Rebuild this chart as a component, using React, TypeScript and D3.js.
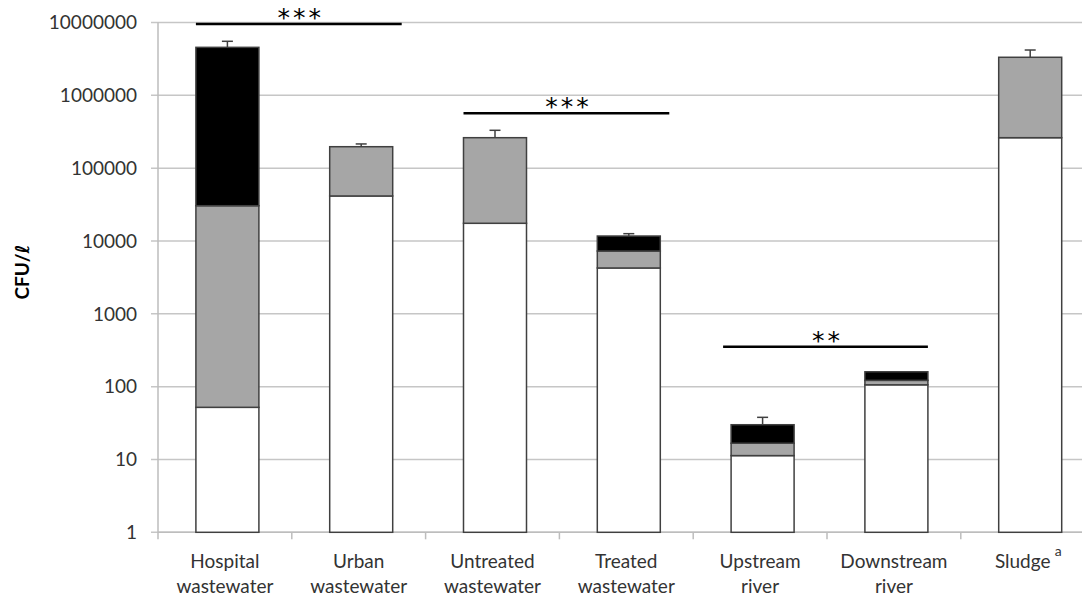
import React from 'react';
import * as d3 from 'd3';

// categories and stacked segment values (CFU per litre)
const categories = [
  ['Hospital', 'wastewater'],
  ['Urban', 'wastewater'],
  ['Untreated', 'wastewater'],
  ['Treated', 'wastewater'],
  ['Upstream', 'river'],
  ['Downstream', 'river'],
  ['Sludge', ''],
];
const whiteSeg = [52, 41500, 17500, 4260, 11.3, 106, 262000];
const graySeg = [30450, 155500, 244500, 3020, 5.4, 16, 3068000];
const blackSeg = [4530000, 0, 0, 4420, 13.3, 38, 0];
const errorTop = [5520000, 215000, 331000, 12600, 37.9, null, 4190000];
const yTicks = [1, 10, 100, 1000, 10000, 100000, 1000000, 10000000];

// significance brackets: first bar, last bar, level, label
const sigFrom = [0, 2, 4];
const sigTo = [1, 3, 5];
const sigLevel = [9500000, 566000, 353];
const sigLabel = ['***', '***', '**'];

const W = 1082;
const H = 601;
const left = 158;
const step = 133.8;
const font = 'Lato, "Open Sans", sans-serif';

export default function App() {
  const rows = categories.map((c, i) => ({
    key: c[0],
    white: whiteSeg[i],
    gray: graySeg[i],
    black: blackSeg[i],
  }));
  const keys = ['white', 'gray', 'black'];
  const colors: Record<string, string> = { white: '#ffffff', gray: '#a6a6a6', black: '#000000' };
  const series = d3.stack<any>().keys(keys)(rows);

  const x = d3.scaleBand()
    .domain(categories.map(c => c[0]))
    .range([left, left + step * categories.length])
    .padding(0);
  const barW = 63;
  const barX = (k: string) => x(k)! + (x.bandwidth() - barW) / 2 + 2.5;

  const y = d3.scaleLog().domain([1, 1e7]).range([532.3, 22.5]);

  return (
    <svg width={W} height={H} style={{ position: 'absolute', left: 0, top: 0, background: '#fff' }}>
      {/* gridlines and y ticks */}
      {yTicks.map(t => (
        <g key={t}>
          <line x1={151} x2={W} y1={y(t)} y2={y(t)} stroke="#c6c6c6" strokeWidth={1.5} />
          <text x={137} y={y(t)} dy="0.36em" textAnchor="end" fontFamily={font} fontSize={19} fill="#333">
            {t}
          </text>
        </g>
      ))}
      {/* axes */}
      <line x1={left} x2={left} y1={y(1e7)} y2={y(1) + 7} stroke="#bdbdbd" strokeWidth={1.5} />
      <line x1={left} x2={W} y1={y(1)} y2={y(1)} stroke="#bdbdbd" strokeWidth={1.5} />
      {categories.map((c, i) => (
        <line key={i} x1={x(c[0])! + x.bandwidth()} x2={x(c[0])! + x.bandwidth()} y1={y(1)} y2={y(1) + 7}
          stroke="#bdbdbd" strokeWidth={1.5} />
      ))}

      {/* stacked bars */}
      {series.map(s => (
        <g key={s.key}>
          {s.map((d, i) => {
            const y0 = Math.max(d[0], 1);
            const y1 = d[1];
            if (y1 <= y0) return null;
            const k = categories[i][0];
            return (
              <rect key={k} x={barX(k)} width={barW} y={y(y1)} height={y(y0) - y(y1)}
                fill={colors[s.key]} stroke="#404040" strokeWidth={1.5} />
            );
          })}
        </g>
      ))}

      {/* error bars, upper only */}
      {categories.map((c, i) => {
        const e = errorTop[i];
        if (e == null) return null;
        const cx = barX(c[0]) + barW / 2;
        const top = series[2][i][1];
        return (
          <g key={i} stroke="#404040" strokeWidth={1.5}>
            <line x1={cx} x2={cx} y1={y(top)} y2={y(e)} />
            <line x1={cx - 5.5} x2={cx + 5.5} y1={y(e)} y2={y(e)} />
          </g>
        );
      })}

      {/* significance brackets */}
      {sigFrom.map((f, i) => {
        const x1 = barX(categories[f][0]) - (i === 2 ? 8 : 0);
        const x2 = barX(categories[sigTo[i]][0]) + barW + (i === 2 ? 0 : 9);
        const ly = y(sigLevel[i]);
        return (
          <g key={i}>
            <line x1={x1} x2={x2} y1={ly} y2={ly} stroke="#000" strokeWidth={2.5} />
            <text x={(x1 + x2) / 2 + 2} y={ly + 2} textAnchor="middle" fontFamily="'DejaVu Sans', sans-serif"
              fontSize={25} fill="#000" letterSpacing={3}>
              {sigLabel[i]}
            </text>
          </g>
        );
      })}

      {/* category labels */}
      {categories.map((c, i) => {
        const cx = x(c[0])! + x.bandwidth() / 2;
        return (
          <g key={i}>
            <text x={cx - (c[1] ? 0 : 5)} textAnchor="middle" fontFamily={font} fontSize={19} fill="#333">
              <tspan x={cx - (c[1] ? 0 : 5)} y={568}>{c[0]}</tspan>
              {c[1] ? <tspan x={cx} y={593}>{c[1]}</tspan> : null}
            </text>
            {c[0] === 'Sludge' ? (
              <text x={cx + 27} y={556} fontFamily={font} fontSize={14} fill="#333">a</text>
            ) : null}
          </g>
        );
      })}

      {/* y axis title */}
      <text transform="translate(29,272) rotate(-90)" textAnchor="middle" fontFamily={font} fontWeight="bold"
        fontSize={19} fill="#000">
        CFU/<tspan fontFamily="'DejaVu Sans', sans-serif" fontWeight="bold">ℓ</tspan>
      </text>
    </svg>
  );
}
